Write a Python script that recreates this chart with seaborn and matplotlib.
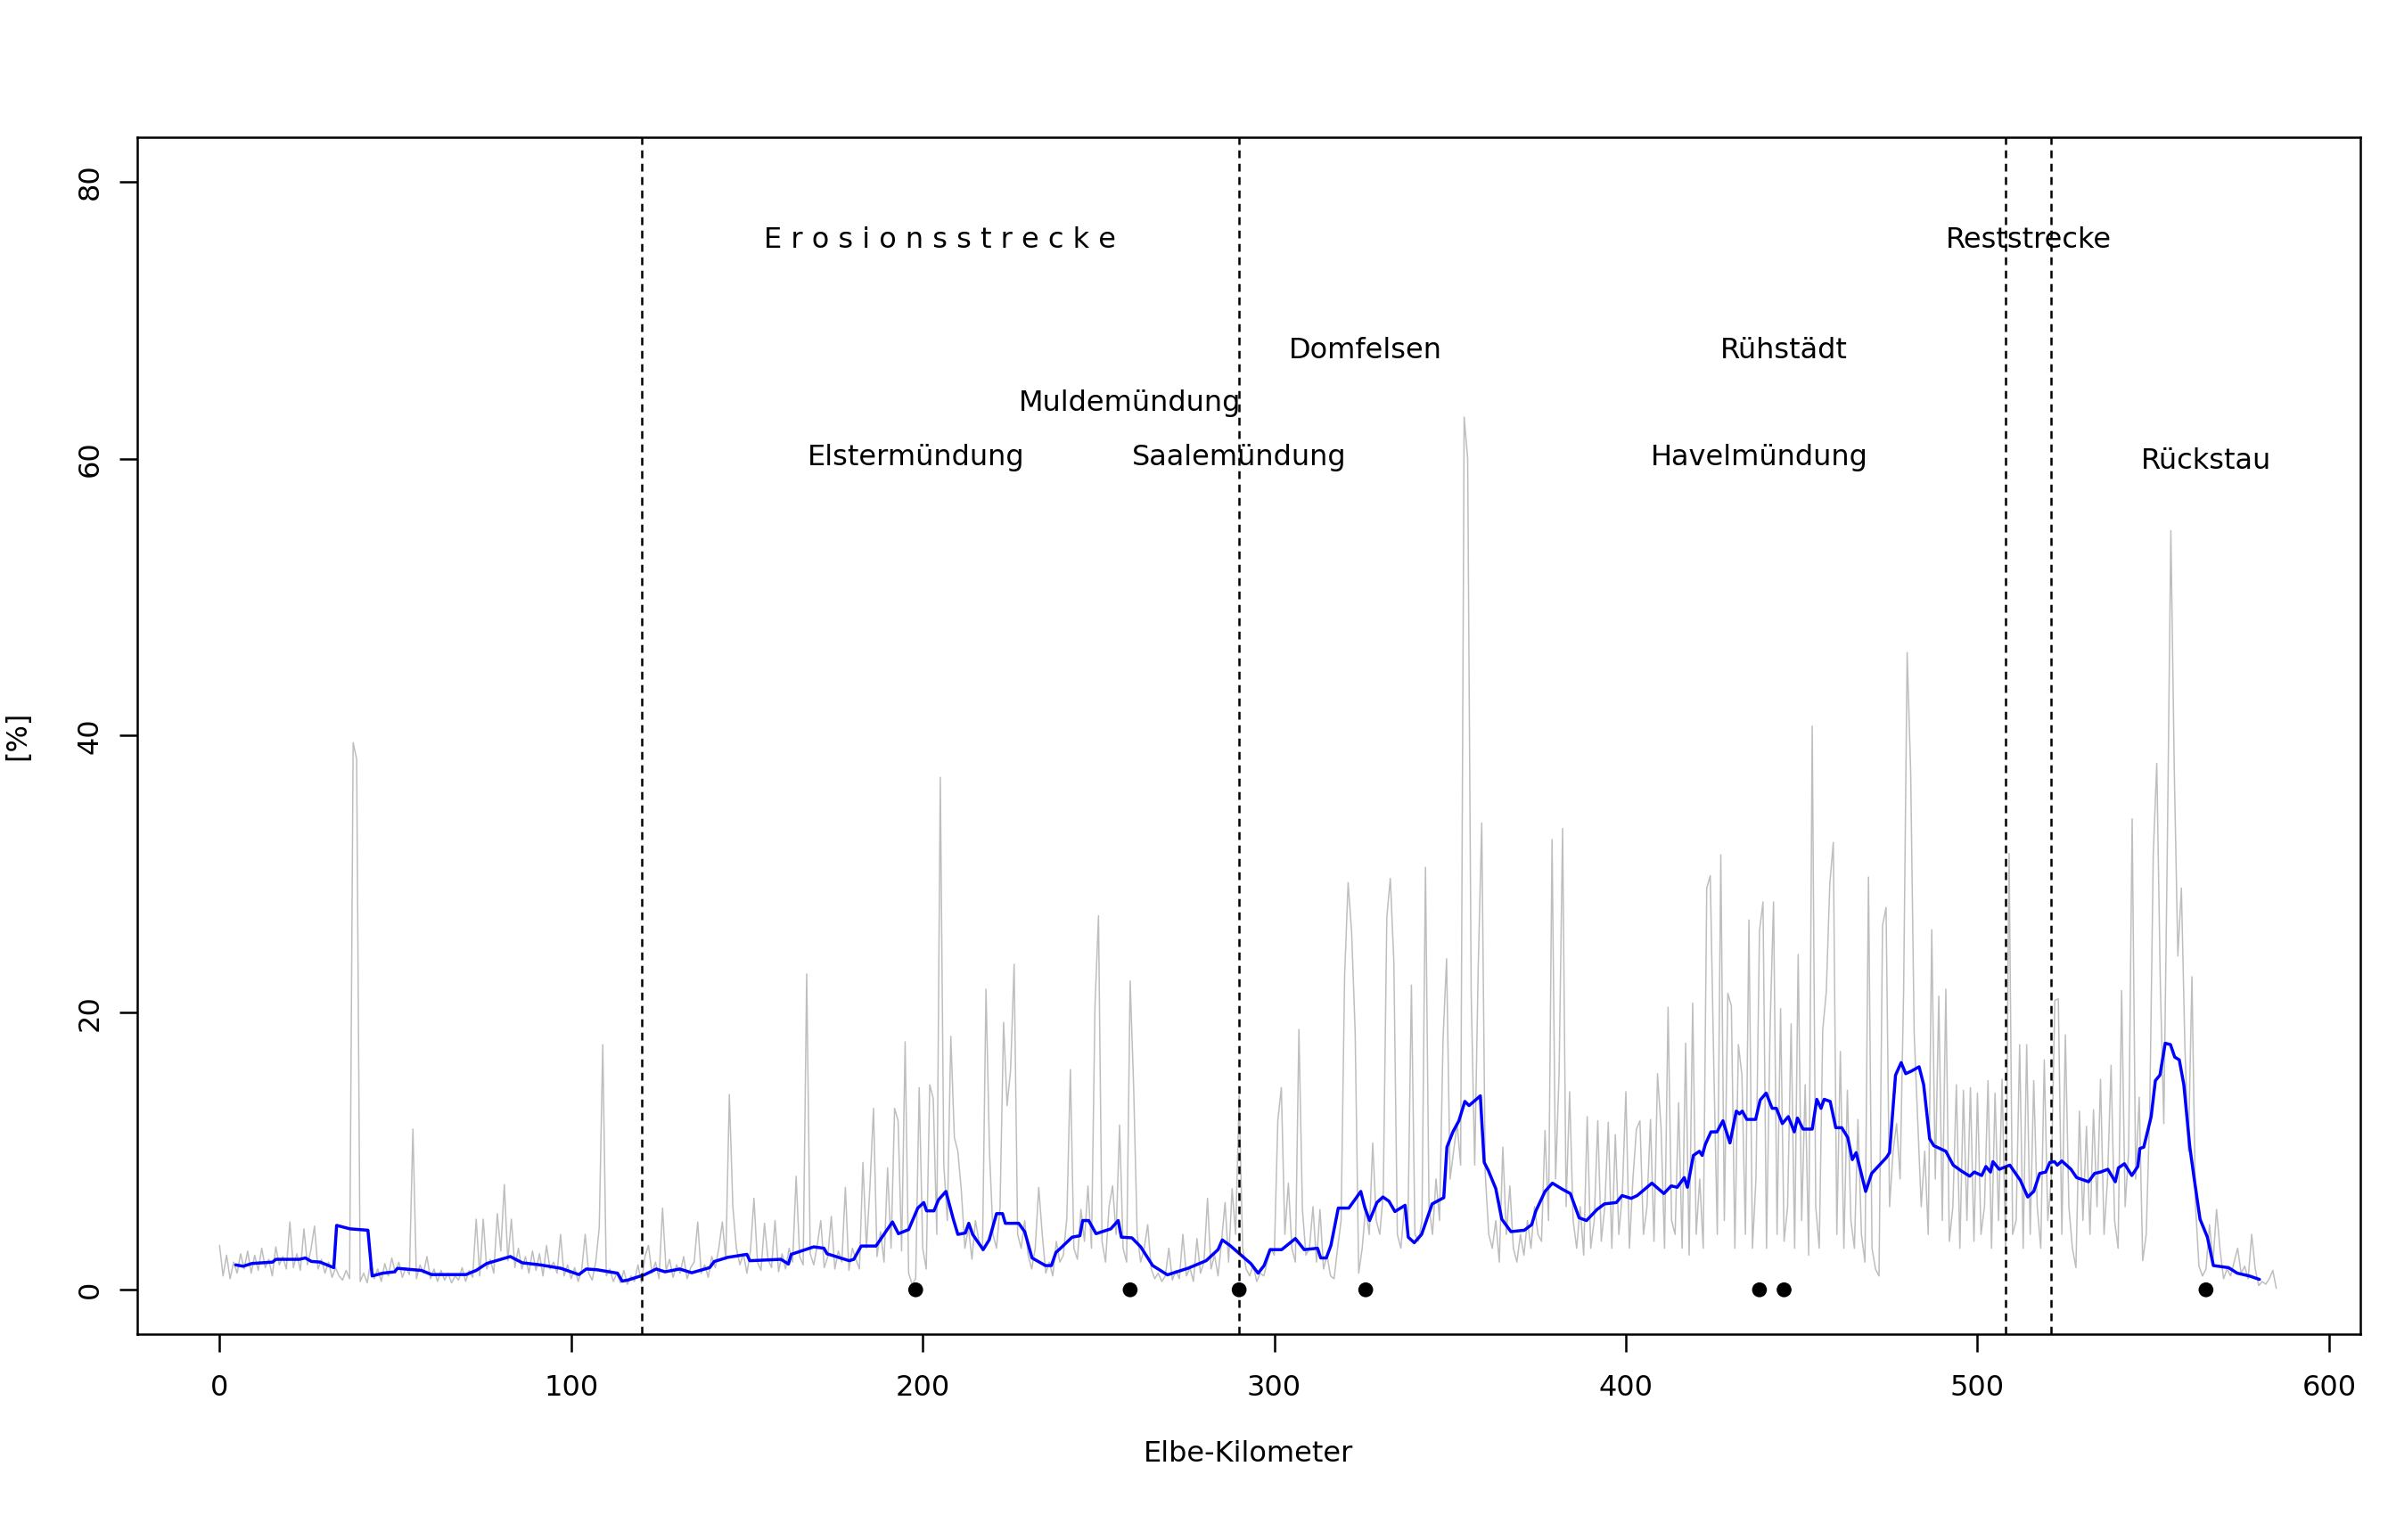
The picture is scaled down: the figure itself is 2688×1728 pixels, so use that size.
import numpy as np
import pandas as pd
import matplotlib
matplotlib.use("Agg")
import matplotlib.pyplot as plt
import seaborn as sns

# --- data --------------------------------------------------------------
# raw series, one value per Elbe-km (0..585)
gray_pct = [
    3.2, 1.0, 2.5, 0.8, 2.0, 1.2, 2.6, 1.5, 2.8, 1.2,
    2.5, 1.4, 3.0, 1.6, 2.2, 1.0, 3.1, 1.8, 2.4, 1.5,
    4.9, 1.6, 2.6, 1.4, 4.4, 1.8, 2.9, 4.6, 1.5, 2.2,
    1.2, 2.0, 0.9, 1.6, 1.0, 0.7, 1.4, 0.8, 39.5, 38.3,
    0.6, 1.2, 0.5, 2.1, 0.8, 1.5, 0.6, 1.9, 1.0, 2.3,
    1.2, 2.0, 0.9, 1.6, 1.1, 11.6, 0.8, 1.8, 1.2, 2.4,
    0.8, 1.5, 0.6, 1.4, 0.7, 1.2, 0.5, 1.0, 0.7, 1.6,
    0.6, 1.4, 0.9, 5.1, 1.0, 5.1, 1.5, 2.2, 1.2, 5.5,
    2.8, 7.6, 2.1, 5.1, 1.6, 3.0, 1.5, 2.4, 1.2, 2.8,
    1.4, 2.6, 1.0, 3.2, 1.5, 2.0, 1.2, 4.0, 1.0, 1.8,
    0.8, 1.6, 0.6, 1.4, 4.0, 1.2, 0.7, 2.0, 4.5, 17.7,
    1.0, 1.5, 0.6, 1.2, 0.5, 1.4, 0.4, 1.0, 0.6, 1.8,
    0.5, 2.4, 3.2, 1.2, 2.0, 0.8, 5.9, 1.4, 2.2, 0.9,
    1.8, 1.2, 2.4, 0.8, 1.6, 2.0, 4.9, 1.2, 1.8, 0.9,
    2.4, 1.6, 3.0, 4.9, 2.2, 14.1, 6.0, 3.0, 1.8, 2.6,
    1.2, 2.8, 6.6, 2.0, 1.4, 4.8, 2.2, 1.6, 5.0, 1.3,
    2.6, 1.5, 3.0, 2.0, 8.2, 2.4, 1.8, 22.8, 2.6, 1.8,
    3.2, 5.0, 1.6, 2.4, 5.3, 1.5, 2.8, 2.0, 7.4, 1.4,
    3.0, 2.2, 1.5, 9.2, 3.0, 7.5, 13.1, 2.4, 4.2, 2.0,
    8.8, 3.0, 13.1, 12.2, 2.8, 17.9, 1.2, 0.4, 0.8, 14.6,
    3.0, 1.5, 14.8, 13.8, 4.0, 37.0, 9.0, 5.0, 18.3, 11.0,
    10.0, 7.1, 3.0, 4.5, 2.2, 5.0, 3.5, 2.8, 21.7, 9.9,
    4.0, 3.0, 6.0, 19.3, 13.3, 15.9, 23.5, 4.0, 3.0, 5.0,
    2.5, 1.5, 3.0, 7.4, 4.0, 1.2, 2.0, 1.0, 3.5, 2.0,
    2.5, 5.2, 15.9, 3.0, 2.2, 5.8, 3.5, 7.5, 3.0, 20.5,
    27.0, 3.5, 2.0, 6.0, 7.5, 4.0, 11.9, 3.0, 2.0, 22.3,
    14.6, 4.0, 2.0, 3.0, 4.7, 1.5, 0.8, 1.2, 0.6, 1.0,
    3.0, 0.7, 1.4, 0.8, 4.0, 1.0, 1.6, 0.6, 3.7, 1.2,
    2.0, 6.6, 1.5, 2.5, 1.0, 3.5, 6.3, 2.0, 7.3, 4.0,
    14.0, 3.0, 1.5, 1.0, 1.8, 0.6, 1.2, 1.0, 2.0, 3.0,
    2.5, 12.2, 14.6, 4.0, 7.7, 3.0, 2.0, 18.8, 5.8, 2.5,
    3.0, 6.0, 2.0, 5.8, 1.5, 2.5, 1.0, 0.8, 3.0, 5.0,
    22.7, 29.4, 25.8, 18.6, 1.2, 3.0, 6.0, 4.0, 10.6, 5.0,
    4.0, 7.0, 26.9, 29.7, 23.7, 4.0, 3.0, 6.0, 4.5, 22.0,
    4.0, 3.5, 5.0, 30.5, 6.0, 4.0, 8.0, 5.0, 18.1, 23.9,
    8.0, 10.0, 12.0, 9.0, 63.0, 60.0, 21.4, 9.0, 23.3, 33.7,
    8.4, 4.0, 3.0, 5.0, 2.0, 10.3, 4.0, 7.5, 3.0, 2.0,
    4.0, 2.5, 5.0, 3.0, 6.0, 4.0, 3.5, 11.5, 5.0, 32.5,
    8.0, 15.6, 33.3, 6.0, 14.3, 5.0, 3.0, 6.0, 2.5, 12.5,
    3.0, 5.0, 12.2, 3.5, 6.0, 12.1, 3.0, 11.2, 4.0, 7.0,
    14.3, 3.0, 8.0, 11.6, 12.2, 4.0, 6.0, 12.3, 3.5, 15.6,
    11.7, 3.0, 20.4, 5.0, 4.0, 13.5, 3.0, 17.8, 2.5, 20.7,
    4.0, 8.0, 3.0, 29.0, 29.9, 16.2, 4.0, 31.4, 5.0, 21.4,
    20.5, 3.0, 17.7, 15.5, 4.0, 26.7, 3.0, 8.0, 25.9, 28.0,
    3.0, 18.8, 28.0, 4.0, 20.3, 3.5, 6.0, 19.2, 3.0, 24.2,
    5.0, 14.8, 2.5, 40.7, 6.0, 3.0, 18.8, 21.5, 29.3, 32.3,
    4.0, 17.2, 3.0, 14.4, 5.0, 3.0, 12.3, 4.0, 2.0, 29.8,
    3.0, 1.5, 1.0, 26.3, 27.6, 6.0, 10.0, 12.0, 8.0, 21.6,
    46.0, 37.4, 18.5, 12.3, 6.0, 10.0, 4.0, 26.0, 8.0, 21.2,
    5.0, 21.7, 3.5, 6.0, 14.8, 3.0, 14.4, 5.0, 14.6, 3.5,
    14.2, 4.0, 6.0, 15.1, 3.0, 14.2, 5.0, 15.2, 3.0, 31.5,
    4.0, 5.0, 17.7, 3.0, 17.7, 4.0, 15.1, 6.0, 3.0, 16.6,
    5.0, 8.0, 20.9, 21.0, 4.0, 18.4, 6.0, 3.0, 1.6, 12.9,
    5.0, 11.8, 4.0, 13.0, 6.0, 15.2, 4.0, 8.0, 16.2, 5.0,
    3.0, 21.6, 6.0, 10.0, 34.0, 8.0, 13.9, 2.1, 4.0, 12.9,
    31.4, 38.0, 22.2, 12.0, 31.9, 54.8, 37.2, 24.1, 29.0, 17.5,
    10.0, 22.6, 6.2, 1.7, 1.0, 1.5, 4.7, 2.0, 5.8, 2.9,
    0.8, 1.5, 1.0, 2.0, 3.0, 1.2, 1.7, 0.8, 4.0, 1.5,
    0.3, 0.6, 0.4, 0.8, 1.4, 0.1,
]
gray_km = list(range(len(gray_pct)))

# smoothed series (blue), break points
blue_km = [
    4.6, 6.7, 9.2, 15.1, 16.0, 22.7, 24.4, 26.1, 28.6, 32.5, 33.3, 37.1, 42.2,
    43.4, 46.4, 49.8, 50.6, 57.4, 60.3, 70.1, 73.0, 76.0, 82.7, 86.1, 91.2,
    97.1, 102.2, 104.3, 107.3, 113.2, 114.5, 116.1, 120.8, 124.2, 126.7, 130.9,
    134.3, 139.4, 140.7, 144.5, 150.0, 150.8, 159.7, 161.8, 162.6, 169.0, 171.9,
    172.8, 179.1, 180.4, 182.5, 186.7, 191.4, 193.1, 196.0, 198.6, 200.3, 201.1,
    203.2, 204.5, 206.6, 208.7, 210.0, 212.1, 213.1, 214.2, 217.2, 218.9, 221.0,
    222.7, 223.5, 227.3, 229.0, 231.1, 234.9, 236.6, 237.9, 239.2, 242.5, 244.7,
    245.5, 247.2, 249.3, 253.5, 255.6, 256.5, 259.5, 262.0, 265.4, 269.6, 275.5,
    280.6, 284.0, 285.2, 287.4, 293.3, 295.4, 297.1, 298.8, 302.1, 306.0, 308.5,
    312.3, 313.2, 314.8, 316.1, 318.2, 321.2, 324.6, 325.8, 327.1, 329.2, 330.9,
    332.6, 334.3, 337.2, 338.1, 339.8, 341.9, 344.9, 348.2, 349.1, 350.8, 352.5,
    354.2, 355.4, 358.6, 359.7, 360.9, 363.0, 364.7, 367.3, 371.1, 373.2, 374.4,
    377.0, 379.1, 382.0, 384.2, 386.7, 388.8, 391.8, 393.9, 397.3, 398.9, 401.5,
    403.2, 407.4, 410.8, 412.9, 414.6, 416.6, 417.5, 419.2, 420.9, 421.7, 422.6,
    424.2, 425.9, 427.6, 429.6, 431.4, 432.3, 433.1, 434.4, 436.9, 438.2, 439.9,
    441.6, 442.8, 444.5, 446.2, 447.9, 448.8, 450.4, 453.0, 454.3, 455.5, 456.4,
    458.1, 459.7, 461.4, 463.1, 464.4, 465.5, 468.2, 469.9, 474.1, 475.0, 476.7,
    478.3, 479.6, 481.3, 483.4, 484.7, 486.4, 487.6, 491.0, 493.1, 495.3, 497.8,
    499.1, 501.2, 502.4, 503.7, 504.4, 506.2, 509.2, 512.2, 514.3, 516.0, 517.7,
    519.4, 520.6, 521.9, 522.7, 524.0, 526.6, 528.2, 531.6, 533.3, 535.0, 537.1,
    539.2, 540.1, 541.8, 543.9, 545.6, 546.2, 547.3, 549.4, 550.6, 551.9, 553.4,
    554.9, 556.1, 557.4, 558.7, 560.4, 561.6, 563.3, 565.4, 567.1, 571.4, 573.9,
    577.3, 580.2,
]
blue_pct = [
    1.8, 1.7, 1.9, 2.0, 2.2, 2.2, 2.3, 2.05, 2.0, 1.6, 4.65, 4.4, 4.3,
    1.0, 1.2, 1.3, 1.55, 1.4, 1.1, 1.1, 1.4, 1.9, 2.4, 1.95, 1.8,
    1.55, 1.1, 1.5, 1.45, 1.2, 0.63, 0.7, 1.08, 1.5, 1.3, 1.5,
    1.23, 1.6, 2.04, 2.34, 2.56, 2.1, 2.2, 1.86, 2.56, 3.1, 3.0,
    2.6, 2.1, 2.2, 3.16, 3.16, 4.9, 4.05, 4.35, 5.9, 6.3, 5.7,
    5.7, 6.5, 7.1, 5.1, 4.0, 4.1, 4.8, 4.0, 2.9, 3.6, 5.5,
    5.5, 4.8, 4.8, 4.2, 2.3, 1.75, 1.75, 2.7, 3.0, 3.8, 3.9,
    5.0, 5.0, 4.05, 4.4, 5.0, 3.8, 3.75, 3.1, 1.75, 1.08, 1.56,
    2.1, 2.9, 3.6, 3.2, 1.9, 1.2, 1.75, 2.9, 2.9, 3.7, 2.9,
    3.0, 2.3, 2.3, 3.2, 5.9, 5.9, 7.1, 5.9, 5.0, 6.3, 6.7,
    6.4, 5.65, 6.1, 3.8, 3.4, 4.0, 6.2, 6.65, 10.3, 11.4, 12.2,
    13.6, 13.3, 14.0, 9.2, 8.6, 7.3, 5.1, 4.2, 4.3, 4.7, 5.7,
    7.1, 7.7, 7.25, 6.95, 5.2, 5.0, 5.8, 6.2, 6.3, 6.8, 6.6,
    6.8, 7.7, 6.95, 7.5, 7.4, 8.1, 7.4, 9.7, 10.0, 9.7, 10.5,
    11.4, 11.4, 12.2, 10.6, 12.9, 12.7, 12.9, 12.3, 12.3, 13.7, 14.2,
    13.1, 13.1, 12.0, 12.5, 11.4, 12.4, 11.6, 11.6, 13.75, 13.1, 13.75,
    13.6, 11.7, 11.7, 11.0, 9.4, 9.9, 7.1, 8.4, 9.55, 9.9, 15.5,
    16.4, 15.6, 15.8, 16.1, 14.8, 10.9, 10.4, 10.0, 9.0, 8.6, 8.2,
    8.5, 8.25, 8.9, 8.5, 9.25, 8.7, 9.0, 7.9, 6.7, 7.1, 8.4,
    8.5, 9.2, 9.25, 9.0, 9.3, 8.7, 8.1, 7.8, 8.4, 8.5, 8.7,
    7.8, 8.8, 9.1, 8.25, 8.9, 10.2, 10.3, 12.5, 15.1, 15.5, 17.8,
    17.7, 16.8, 16.6, 14.8, 10.3, 8.1, 5.1, 3.8, 1.75, 1.6, 1.2,
    1.0, 0.75,
]

# river-km marks at y = 0 and their labels
mark_km = [198, 259, 290, 326, 438, 445, 565]
mark_names = ["Elstermündung", "Muldemündung", "Saalemündung", "Domfelsen",
              "Havelmündung", "Rühstädt", "Rückstau"]
mark_label_y = [60.1, 64.0, 60.1, 67.8, 60.1, 67.8, 59.8]

# section boundaries and section names
section_km = [120, 290, 508, 521]
section_names = ["E r o s i o n s s t r e c k e", "Reststrecke"]
section_label_km = [205, 514.5]
section_label_y = [75.8, 75.8]

x_ticks = [0, 100, 200, 300, 400, 500, 600]
y_ticks = [0, 20, 40, 60, 80]

# --- plot ---------------------------------------------------------------
sns.set_style("ticks")
plt.rcParams["font.family"] = ["DejaVu Sans"]
plt.rcParams["text.color"] = "black"
plt.rcParams["axes.labelcolor"] = "black"
plt.rcParams["xtick.color"] = "black"
plt.rcParams["ytick.color"] = "black"
FS = 11.5

fig = plt.figure(figsize=(13.44, 8.64), dpi=200)
ax = fig.add_axes([154 / 2688, 1 - 1497 / 1728, 2494 / 2688, 1343 / 1728])

raw = pd.DataFrame({"km": gray_km, "pct": gray_pct})
smooth = pd.DataFrame({"km": blue_km, "pct": blue_pct})
marks = pd.DataFrame({"km": mark_km, "pct": [0] * len(mark_km)})

sns.lineplot(data=raw, x="km", y="pct", color="#BEBEBE", lw=0.55,
             estimator=None, sort=False, legend=False, ax=ax)
sns.lineplot(data=smooth, x="km", y="pct", color="#0000FF", lw=1.25,
             estimator=None, sort=False, legend=False, ax=ax)
sns.scatterplot(data=marks, x="km", y="pct", color="black", s=36,
                edgecolor="none", legend=False, ax=ax, zorder=5)

for k in section_km:
    ax.axvline(k, color="black", lw=0.9, linestyle=(0, (3.5, 2.5)), zorder=4)

for name, k, y in zip(mark_names, mark_km, mark_label_y):
    ax.text(k, y, name, ha="center", va="center", fontsize=FS, color="black")
for name, k, y in zip(section_names, section_label_km, section_label_y):
    ax.text(k, y, name, ha="center", va="center", fontsize=FS, color="black")

ax.set_xlim(-23.4, 608.9)
ax.set_ylim(-3.2, 83.2)
ax.set_xticks(x_ticks)
ax.set_xticklabels([str(t) for t in x_ticks], fontsize=FS)
ax.set_yticks(y_ticks)
ax.set_yticklabels([str(t) for t in y_ticks], fontsize=FS, rotation=90,
                   va="center")
ax.tick_params(direction="out", length=7.2, width=0.9, color="black",
               labelcolor="black")
ax.tick_params(axis="x", pad=9.0)
ax.tick_params(axis="y", pad=6.3)
for sp in ax.spines.values():
    sp.set_visible(True)
    sp.set_linewidth(0.9)
    sp.set_color("black")

ax.set_xlabel("Elbe-Kilometer", fontsize=FS, color="black")
ax.xaxis.set_label_coords(0.5, (1497 - 1632) / 1343)
ax.xaxis.label.set_va("center")
ax.set_ylabel("[%]", fontsize=FS, color="black")
ax.yaxis.set_label_coords((20 - 154) / 2494, 0.5)
ax.yaxis.label.set_va("center")

fig.savefig("out.png", dpi=200, facecolor="white")
